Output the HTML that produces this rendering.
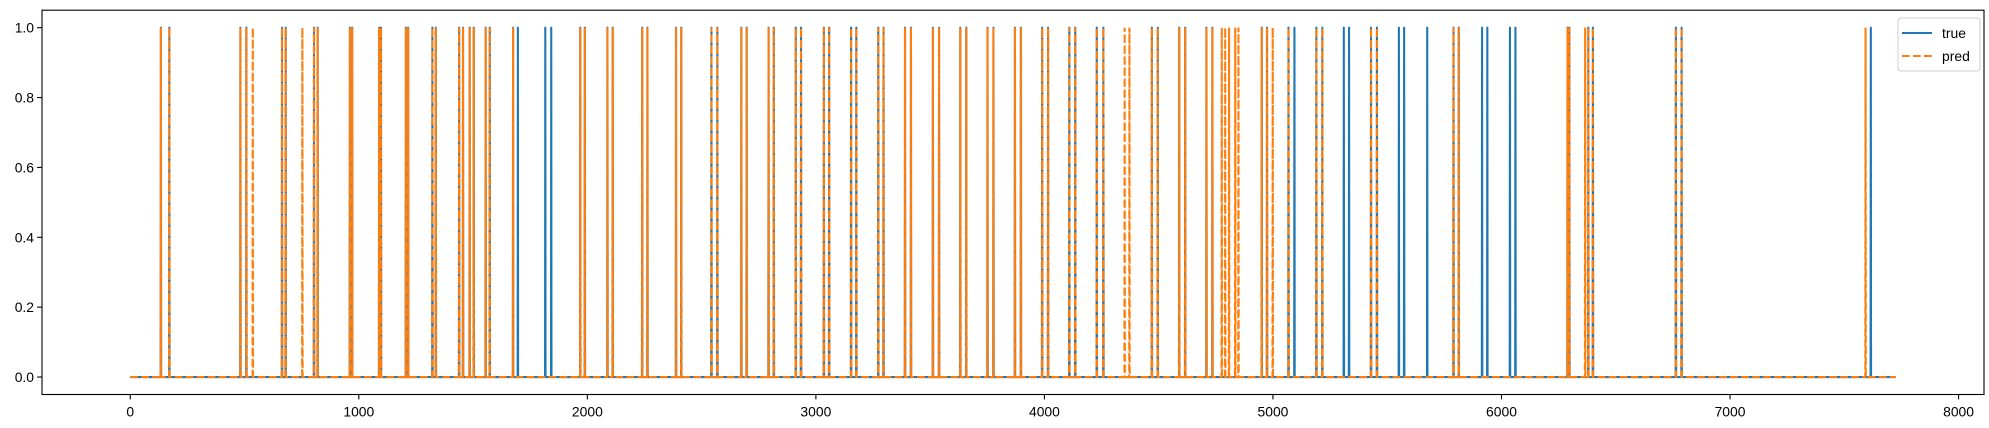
<!DOCTYPE html>
<html><head><meta charset="utf-8"><style>
html,body{margin:0;padding:0;background:#fff;}
svg{display:block;font-family:"Liberation Sans","DejaVu Sans",sans-serif;}
</style></head><body>
<svg id="chart" width="1989" height="428" viewBox="0 0 1989 428" xmlns="http://www.w3.org/2000/svg">
<rect x="0" y="0" width="1989" height="428" fill="#fff"/>
<g id="plot"></g>
<g id="axes"></g>
<g>
<rect x="1898" y="18" width="82" height="53" rx="3" fill="#fff" fill-opacity="0.8" stroke="#ccc" stroke-width="1"/>
<line x1="1902" y1="33" x2="1932" y2="33" stroke="#1f77b4" stroke-width="2.1"/>
<text x="1942" y="38" font-size="13.9" fill="#000">true</text>
<line x1="1902" y1="56" x2="1932" y2="56" stroke="#ff7f0e" stroke-width="2.1" stroke-dasharray="7.7,3.3"/>
<text x="1942" y="61" font-size="13.9" fill="#000">pred</text>
</g>
</svg>
<script>
const nSamples = 7725;
const trueIdx = [134,171,482,508,664,680,804,820,961,971,1089,1097,1206,1216,1322,1337,1439,1456,1485,1503,1555,1573,1675,1696,1816,1842,1969,1989,2088,2111,2240,2263,2388,2411,2543,2569,2674,2697,2793,2816,2912,2935,3035,3058,3154,3177,3273,3296,3390,3416,3512,3539,3632,3658,3751,3777,3871,3897,3990,4016,4109,4135,4229,4258,4470,4496,4590,4616,4709,4735,4951,4974,5068,5094,5190,5216,5310,5333,5429,5455,5551,5574,5675,5790,5813,5915,5938,6037,6061,6289,6297,6380,6400,6763,6788,7616];
const predIdx = [134,171,482,508,536,664,680,753,804,820,961,971,1089,1097,1206,1216,1322,1337,1439,1456,1485,1503,1555,1573,1675,1969,1989,2088,2111,2240,2263,2388,2411,2543,2569,2674,2697,2793,2816,2912,2935,3035,3058,3154,3177,3273,3296,3390,3416,3512,3539,3632,3658,3751,3777,3871,3897,3990,4016,4109,4135,4229,4258,4351,4372,4470,4496,4590,4616,4709,4735,4776,4791,4808,4835,4849,4951,4974,4999,5068,5190,5216,5429,5455,5790,5813,6289,6297,6366,6380,6400,6763,6788,7593];
const xTicks = [0,1000,2000,3000,4000,5000,6000,7000,8000];
const yTicks = [0.0,0.2,0.4,0.6,0.8,1.0];
const yTickLabels = ["0.0","0.2","0.4","0.6","0.8","1.0"];

const NS="http://www.w3.org/2000/svg";
const X0=42, X1=1984, Y0=10.2, Y1=394.5;
const xmin=-0.05*nSamples, xmax=nSamples*1.05;
const xs = v => X0 + (v - xmin)/(xmax - xmin)*(X1-X0);
const ys = v => Y1 - (v + 0.05)/1.1*(Y1-Y0);

function pathFor(idx){
  const s=[...idx].sort((a,b)=>a-b);
  let d="M"+xs(0)+","+ys(0);
  for(const i of s){
    d+=" L"+xs(i-1)+","+ys(0)+" L"+xs(i)+","+ys(1)+" L"+xs(i+1)+","+ys(0);
  }
  d+=" L"+xs(nSamples)+","+ys(0);
  return d;
}
const plot=document.getElementById('plot');
const pt=document.createElementNS(NS,'path');
pt.setAttribute('d',pathFor(trueIdx));
pt.setAttribute('fill','none');pt.setAttribute('stroke','#1f77b4');pt.setAttribute('stroke-width','2.1');pt.setAttribute('stroke-linejoin','round');


plot.appendChild(pt);
const pp=document.createElementNS(NS,'path');
pp.setAttribute('d',pathFor(predIdx));
pp.setAttribute('fill','none');pp.setAttribute('stroke','#ff7f0e');pp.setAttribute('stroke-width','2.1');pp.setAttribute('stroke-dasharray','7.7,3.3');


plot.appendChild(pp);

const axes=document.getElementById('axes');
const frame=document.createElementNS(NS,'rect');
frame.setAttribute('x',X0);frame.setAttribute('y',Y0);frame.setAttribute('width',X1-X0);frame.setAttribute('height',Y1-Y0);
frame.setAttribute('fill','none');frame.setAttribute('stroke','#000');frame.setAttribute('stroke-width','1.1');


axes.appendChild(frame);
xTicks.forEach(v=>{
  const x=xs(v);
  const l=document.createElementNS(NS,'line');
  l.setAttribute('x1',x);l.setAttribute('x2',x);l.setAttribute('y1',Y1);l.setAttribute('y2',Y1+4.9);l.setAttribute('stroke','#000');l.setAttribute('stroke-width','1.1');
  
  
  axes.appendChild(l);
  const t=document.createElementNS(NS,'text');
  t.setAttribute('x',x);t.setAttribute('y',Y1+22);t.setAttribute('text-anchor','middle');t.setAttribute('font-size','13.9');
  t.textContent=String(v);
  
  
  axes.appendChild(t);
});
yTicks.forEach((v,k)=>{
  const y=ys(v);
  const l=document.createElementNS(NS,'line');
  l.setAttribute('x1',X0-4.9);l.setAttribute('x2',X0);l.setAttribute('y1',y);l.setAttribute('y2',y);l.setAttribute('stroke','#000');l.setAttribute('stroke-width','1.1');
  
  
  axes.appendChild(l);
  const t=document.createElementNS(NS,'text');
  t.setAttribute('x',X0-8);t.setAttribute('y',y+5);t.setAttribute('text-anchor','end');t.setAttribute('font-size','13.9');
  t.textContent=yTickLabels[k];
  
  
  axes.appendChild(t);
});
</script>
</body></html>
